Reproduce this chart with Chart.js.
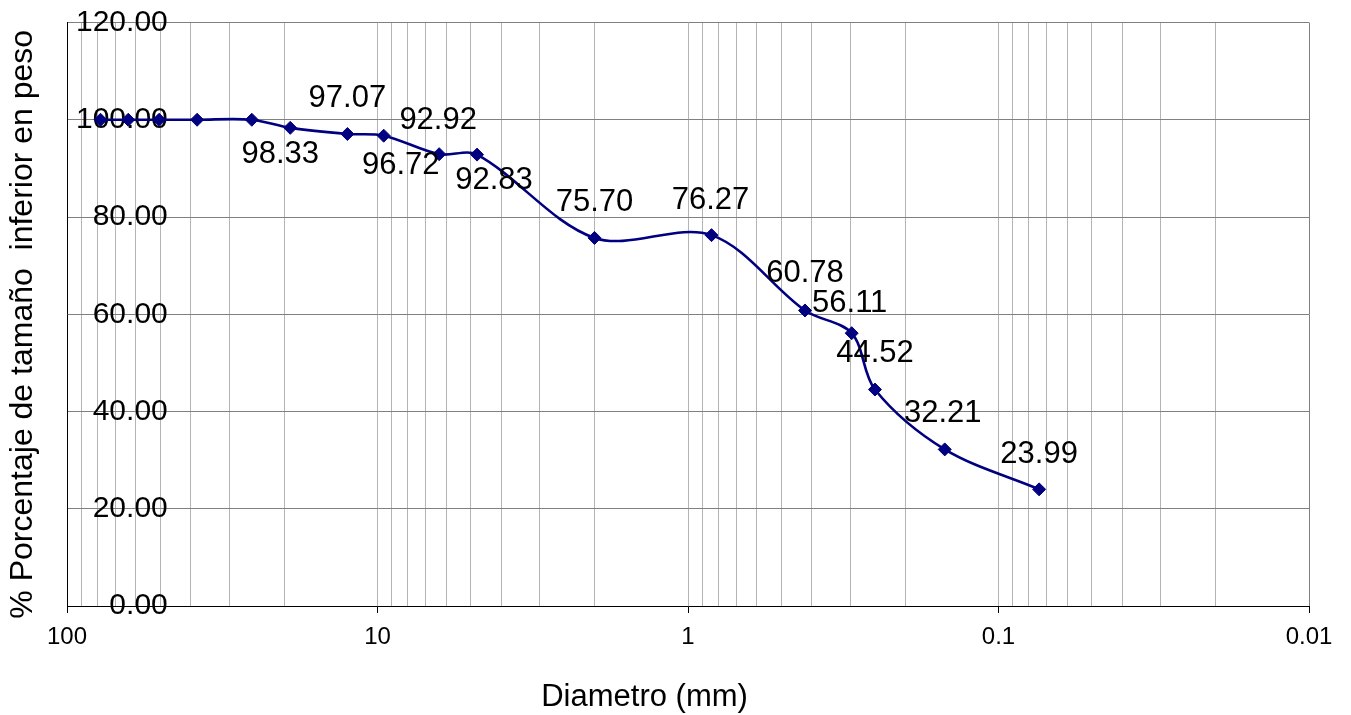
<!DOCTYPE html>
<html>
<head>
<meta charset="utf-8">
<title>Curva granulométrica</title>
<script src="https://cdn.jsdelivr.net/npm/chart.js@4/dist/chart.umd.min.js"></script>
<style>
  html, body { margin: 0; padding: 0; background: #ffffff; }
  #wrap { width: 1351px; height: 715px; }
</style>
</head>
<body>
<div id="wrap"><canvas id="curva" width="1351" height="715"></canvas></div>
<script>
// Abertura de tamiz (mm)
const diametros = [78, 63.5, 50.5, 38.1, 25.4, 19.1, 12.5, 9.55, 6.33, 4.78, 2.0, 0.84, 0.42, 0.297, 0.25, 0.149, 0.074];
// Porcentaje que pasa (acumulado)
const pasaPct = [100, 100, 100, 100, 100, 98.33, 97.07, 96.72, 92.92, 92.83, 75.70, 76.27, 60.78, 56.11, 44.52, 32.21, 23.99];
// Décadas del eje logarítmico y sus rótulos
const decadas = [100, 10, 1, 0.1, 0.01];
const decadaRotulos = ['100', '10', '1', '0.1', '0.01'];
// Eje vertical
const yMin = 0, yMax = 120, yPaso = 20;

// Desplazamiento de cada rótulo de valor respecto a su punto (null = sin rótulo)
const rotuloDesp = [null, null, null, null, null,
  [-10, 27], [0, -36], [17, 30], [-1, -34], [17, 26],
  [0, -35], [-1, -35], [0, -37], [-2, -30], [0, -36], [-2, -36], [0, -35]];

const FAMILIA = '"Liberation Sans", Arial, Helvetica, sans-serif';

// Líneas de división: 1..9 × cada década, más el extremo superior
const lineasX = [decadas[0]];
decadas.slice(1).forEach(d => { for (let m = 1; m <= 9; m++) lineasX.push(m * d); });
const rotuloDe = new Map(decadas.map((d, i) => [d, decadaRotulos[i]]));

const puntos = diametros.map((d, i) => ({ x: d, y: pasaPct[i] }));

const rotulosValor = {
  id: 'rotulosValor',
  afterDatasetsDraw(chart) {
    const ctx = chart.ctx;
    const meta = chart.getDatasetMeta(0);
    ctx.save();
    ctx.font = '31px ' + FAMILIA;
    ctx.fillStyle = '#000000';
    ctx.textAlign = 'center';
    ctx.textBaseline = 'middle';
    meta.data.forEach((p, i) => {
      const off = rotuloDesp[i];
      if (!off) return;
      ctx.fillText(pasaPct[i].toFixed(2), p.x + off[0], p.y + off[1]);
    });
    ctx.restore();
  }
};

const titulosEjes = {
  id: 'titulosEjes',
  afterDraw(chart) {
    const ctx = chart.ctx;
    const a = chart.chartArea;
    ctx.save();
    ctx.fillStyle = '#000000';
    ctx.textAlign = 'center';
    ctx.textBaseline = 'middle';
    ctx.font = '31px ' + FAMILIA;
    ctx.fillText('Diametro (mm)', a.left + (a.right - a.left) * 0.465, 697);
    ctx.translate(23, (a.top + a.bottom) / 2 + 10);
    ctx.rotate(-Math.PI / 2);
    ctx.font = '32px ' + FAMILIA;
    ctx.fillText('% Porcentaje de tamaño  inferior en peso', 0, 0);
    ctx.restore();
  }
};

new Chart(document.getElementById('curva'), {
  type: 'line',
  data: {
    datasets: [{
      data: puntos,
      borderColor: '#000080',
      backgroundColor: '#000080',
      borderWidth: 2.6,
      tension: 0.33,
      fill: false,
      pointStyle: 'rectRot',
      pointRadius: 6.5,
      pointBorderWidth: 1,
      pointBackgroundColor: '#000080',
      pointBorderColor: '#000080'
    }]
  },
  options: {
    responsive: false,
    animation: false,
    events: [],
    layout: { padding: { left: 0, top: 22.5, right: 42, bottom: 0 } },
    plugins: { legend: { display: false }, tooltip: { enabled: false } },
    scales: {
      x: {
        type: 'logarithmic',
        min: 0.01,
        max: 100,
        reverse: true,
        afterBuildTicks(scale) { scale.ticks = lineasX.map(v => ({ value: v })); },
        afterFit(scale) { scale.height = 109; scale.paddingLeft = 0; scale.paddingRight = 0; },
        ticks: {
          autoSkip: false,
          maxRotation: 0,
          minRotation: 0,
          padding: 10,
          color: '#000000',
          font: { family: FAMILIA, size: 24 },
          callback: (v) => rotuloDe.has(v) ? rotuloDe.get(v) : ''
        },
        grid: {
          color: (c) => (c.tick && c.tick.value === 0.01) ? '#808080' : '#b4b4b4',
          lineWidth: 1,
          drawTicks: true,
          tickLength: 7,
          tickWidth: 1,
          tickColor: (c) => (c.tick && rotuloDe.has(c.tick.value)) ? '#000000' : 'rgba(0,0,0,0)'
        },
        border: { display: true, color: '#000000', width: 1 }
      },
      y: {
        min: yMin,
        max: yMax,
        afterFit(scale) { scale.width = 67; scale.paddingTop = 0; scale.paddingBottom = 0; },
        ticks: {
          stepSize: yPaso,
          mirror: true,
          crossAlign: 'far',
          padding: 9,
          color: '#000000',
          font: { family: FAMILIA, size: 30 },
          callback: (v) => Number(v).toFixed(2)
        },
        grid: { color: '#808080', lineWidth: 1, drawTicks: false },
        border: { display: true, color: '#000000', width: 1 }
      }
    }
  },
  plugins: [rotulosValor, titulosEjes]
});
</script>
</body>
</html>
